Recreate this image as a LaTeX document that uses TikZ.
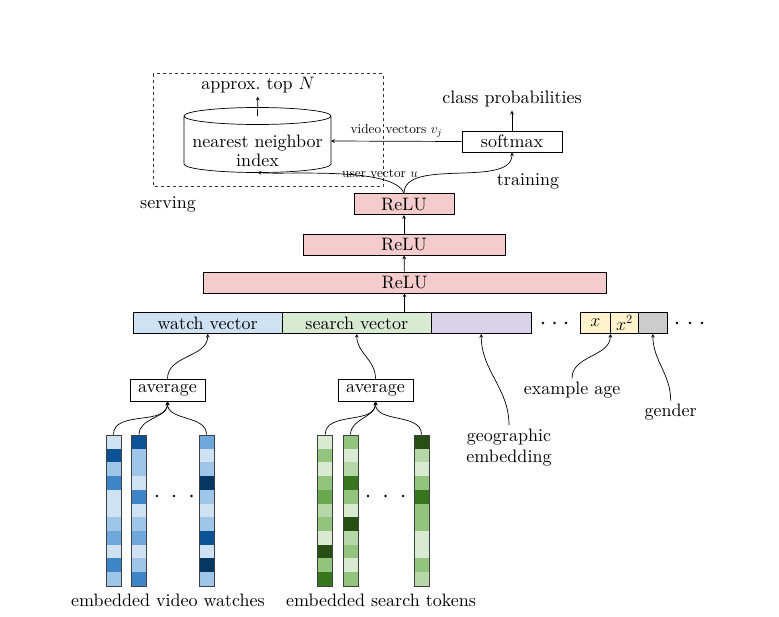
\documentclass[tikz,border=0pt]{standalone}
\usepackage{fix-cm}
\usepackage{fontspec}
\setmainfont{lmroman10-regular.otf}
\usepackage{tikz}
\usetikzlibrary{arrows,shapes,calc}
\definecolor{relu}{HTML}{F4CCCC}
\definecolor{watch}{HTML}{CFE2F3}
\definecolor{search}{HTML}{D9EAD3}
\definecolor{geo}{HTML}{D9D2E9}
\definecolor{age}{HTML}{FFF2CC}
\definecolor{gend}{HTML}{CCCCCC}
\definecolor{b1}{HTML}{CFE2F3}
\definecolor{b2}{HTML}{9FC5E8}
\definecolor{b3}{HTML}{6FA8DC}
\definecolor{b4}{HTML}{3D85C6}
\definecolor{b5}{HTML}{0B5394}
\definecolor{b6}{HTML}{073763}
\definecolor{g1}{HTML}{D9EAD3}
\definecolor{g2}{HTML}{B6D7A8}
\definecolor{g3}{HTML}{93C47D}
\definecolor{g4}{HTML}{6AA84F}
\definecolor{g5}{HTML}{38761D}
\definecolor{g6}{HTML}{274E13}

\begin{document}
\begin{tikzpicture}[x=1pt,y=1pt,line width=0.7pt,
    font=\fontsize{18}{18.5}\selectfont,
    box/.style={draw,inner sep=0pt,minimum height=21pt},
    small/.style={font=\fontsize{13.3}{15}\selectfont},
    col/.style={draw=black!75,minimum width=15pt,minimum height=151pt,inner sep=0pt}]
  \useasboundingbox (0,0) rectangle (779,-616);
  \draw[dashed,black!80] (153,-73.5) rectangle (383,-186);
  \draw (257.5,-116) ellipse (73.5 and 8.5)
    (184,-116) -- (184,-164) arc (180:360:73.5 and 8.5) -- (331,-116);
  \coordinate (idxtop) at (257.5,-116);
  \coordinate (idxeast) at (331,-141);
  \coordinate (idxbot) at (257.5,-172.5);
  \node[align=center] (idx) at (257.5,-151) {nearest neighbor\\index};
  \node (topn) at (258,-85) {approx.\ top $N$};
  \node (cls) at (512,-99) {class probabilities};
  \node[box,minimum width=100pt] (soft) at (512,-141.5) {softmax};
  \node[small] (uvec) at (380,-173) {user vector $u$};
  \node (train) at (528,-181) {training};
  \node (serve) at (168,-204) {serving};
  \node[box,fill=relu,minimum width=100pt] (relu3) at (404,-204.25) {ReLU};
  \node[box,fill=relu,minimum width=202pt] (relu2) at (404,-244.5) {ReLU};
  \node[box,fill=relu,minimum width=403pt] (relu1) at (404.5,-282.5) {ReLU};
  \node[box,fill=watch,minimum width=149.5pt] (watchv) at (207.75,-323) {watch vector};
  \node[box,fill=search,minimum width=148.5pt] (searchv) at (356.75,-323) {search vector};
  \node[box,fill=geo,minimum width=100.5pt] (geov) at (481.25,-323) {};
  \node[box,fill=age,minimum width=29.4pt] (agex) at (595.3,-323) {$x$};
  \node[box,fill=age,minimum width=28.8pt] (agexx) at (624.4,-323) {$x^2$};
  \node[box,fill=gend,minimum width=28.2pt] (gendv) at (652.9,-323) {};
  \foreach \x in {543,554.5,566,677,690,702} \fill (\x,-323) circle (1.4);
  \node[box,minimum width=75pt,minimum height=22pt] (avgv) at (167.5,-390) {average};
  \node[box,minimum width=75pt,minimum height=22pt] (avgs) at (375.5,-390) {average};
  \node[align=center,font=\fontsize{18}{21}\selectfont] (geolab) at (509,-447.5) {geographic\\embedding};
  \node (agelab) at (572,-390) {example age};
  \node (gendlab) at (670.7,-412.5) {gender};
  \foreach \n/\x/\cl in {v1/106/{b1,b5,b2,b4,b1,b1,b2,b3,b1,b4,b2},
      v2/131.5/{b5,b2,b2,b1,b4,b1,b2,b3,b1,b2,b4},
      v3/199/{b3,b1,b2,b6,b2,b1,b2,b5,b1,b6,b2},
      s1/317.7/{g1,g3,g1,g3,g4,g2,g3,g1,g6,g3,g5},
      s2/343/{g3,g1,g2,g5,g3,g1,g6,g2,g3,g1,g3},
      s3/414/{g6,g2,g1,g3,g5,g3,g3,g1,g1,g3,g2}}{
    \foreach \c [count=\i] in \cl \fill[\c] (\x,{-435-13.7*(\i-1)}) rectangle ++(15,-13.7);
    \node[col] (\n) at (\x+7.5,-510.5) {};
  }
  \foreach \x in {157,174,191.5,368,385.5,403} \fill (\x,-496) circle (1.4);
  \node (vw) at (168,-600) {embedded video watches};
  \node (st) at (381,-600) {embedded search tokens};
  \path[-stealth]
    (idxtop) edge (topn)
    (soft) edge (cls)
    (soft.west) edge node[small,above] {video vectors $v_j$} (idxeast)
    (relu3.north) edge[out=110,in=-5,looseness=0.5] (idxbot)
    (relu3.north) edge[out=90,in=-90,looseness=0.8] (soft.south)
    (relu2) edge (relu3)
    (relu1) edge (relu2)
    (relu1.south |- searchv.north) edge (relu1)
    (avgv) edge[out=90,in=-90] (watchv.south)
    (avgs) edge[out=90,in=-90] (searchv.south)
    (geolab) edge[out=90,in=-90] (geov.south)
    (agelab) edge[out=90,in=-90] (agex.south east)
    (gendlab) edge[out=90,in=-90] (gendv.south)
    (v1.north) edge[out=90,in=-90] (avgv.south)
    (v2.north) edge[out=90,in=-90] (avgv.south)
    (v3.north) edge[out=90,in=-90] (avgv.south)
    (s1.north) edge[out=90,in=-90] (avgs.south)
    (s2.north) edge[out=90,in=-90] (avgs.south)
    (s3.north) edge[out=90,in=-90] (avgs.south);
\end{tikzpicture}
\end{document}
